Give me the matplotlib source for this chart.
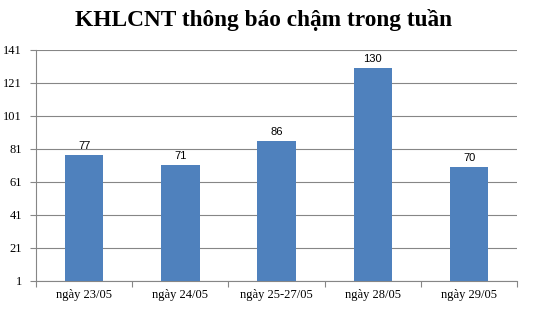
import numpy as np
import matplotlib.pyplot as plt

categories = ["ngày 23/05", "ngày 24/05", "ngày 25-27/05", "ngày 28/05", "ngày 29/05"]
values = [77, 71, 86, 130, 70]
yticks = [1, 21, 41, 61, 81, 101, 121, 141]

fig = plt.figure(figsize=(5.36, 3.10), dpi=100)
ax = fig.add_axes([0.067, 0.094, 0.898, 0.745])

x = np.arange(len(categories))
ax.bar(x, values, width=0.4, color="#4F81BD", bottom=0, zorder=3)
for xi, v in zip(x, values):
    ax.text(xi, v + 2.5, str(v), ha="center", va="bottom", fontsize=8,
            family="Liberation Sans", color="#000000")

ax.set_xlim(-0.5, len(categories) - 0.5)
ax.set_ylim(1, 141)
ax.set_yticks(yticks)
ax.set_yticklabels([str(t) for t in yticks], family="Liberation Serif", fontsize=9)
ax.grid(axis="y", color="#868686", linewidth=0.8, zorder=0)

# category labels between boundary ticks
ax.set_xticks(np.arange(len(categories) + 1) - 0.5)
ax.set_xticklabels([])
ax.set_xticks(x, minor=True)
ax.set_xticklabels(categories, minor=True, family="Liberation Serif", fontsize=9)
ax.tick_params(axis="x", which="minor", length=0, pad=6)
ax.tick_params(axis="x", which="major", length=4, color="#868686")
ax.tick_params(axis="y", length=4, color="#868686", pad=6)

for s in ["top", "right"]:
    ax.spines[s].set_visible(False)
for s in ["left", "bottom"]:
    ax.spines[s].set_color("#868686")
    ax.spines[s].set_linewidth(0.8)

fig.text(0.4916, 0.935, "KHLCNT thông báo chậm trong tuần", ha="center", va="center",
         family="Liberation Serif", fontweight="bold", fontsize=16.8)

fig.savefig("out.png", dpi=100)
